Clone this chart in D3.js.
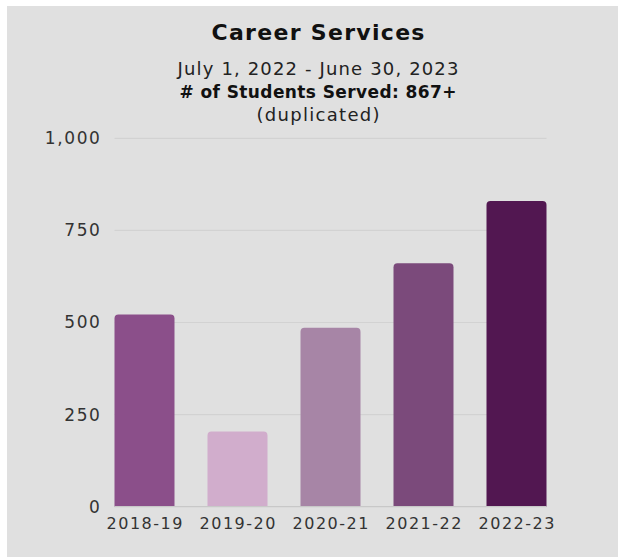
<!DOCTYPE html>
<html>
<head>
<meta charset="utf-8">
<script src="https://cdn.jsdelivr.net/npm/d3@7"></script>
<style>
  html, body { margin: 0; padding: 0; background: #ffffff; }
  svg { display: block; }
  text { font-family: "DejaVu Sans", "Noto Sans", sans-serif; }
</style>
</head>
<body>
<svg id="chart" width="618" height="557"></svg>
<script>
// Students served by Career Services, per academic year
const years = ["2018-19", "2019-20", "2020-21", "2021-22", "2022-23"];
const students = [522, 204, 486, 661, 830];
const barColors = ["#8b4f8a", "#d1adcc", "#a785a6", "#7b4a7b", "#521751"];
const yTicks = [0, 250, 500, 750, 1000];
const titleLines = ["Career Services", "July 1, 2022 - June 30, 2023", "# of Students Served: 867+", "(duplicated)"];

const svg = d3.select("#chart");
const W = 618, H = 557;

// panel background
svg.append("rect").attr("x", 7).attr("y", 6).attr("width", W - 7).attr("height", H - 6)
  .attr("fill", "#e0e0e0");

// titles
const tx = 318;
const titleStyle = [
  { y: 40, size: 22, weight: 700, spacing: 1.3, fill: "#111" },
  { y: 75, size: 18, weight: 400, spacing: 1.15, fill: "#222" },
  { y: 98, size: 17, weight: 700, spacing: 0.4, fill: "#111" },
  { y: 121, size: 18, weight: 400, spacing: 1.3, fill: "#222" }
];
svg.append("g").selectAll("text").data(titleLines).join("text")
  .attr("x", (d, i) => tx + titleStyle[i].spacing / 2).attr("y", (d, i) => titleStyle[i].y)
  .attr("text-anchor", "middle")
  .attr("font-size", (d, i) => titleStyle[i].size)
  .attr("font-weight", (d, i) => titleStyle[i].weight)
  .attr("letter-spacing", (d, i) => titleStyle[i].spacing)
  .attr("fill", (d, i) => titleStyle[i].fill)
  .text(d => d);

// scales
const x = d3.scaleBand().domain(years).range([98, 563]).paddingInner(0.355).paddingOuter(0.1775);
const y = d3.scaleLinear().domain([0, 1000]).range([506.7, 138.3]);

const gx0 = x(years[0]);
const gx1 = x(years[years.length - 1]) + x.bandwidth();

// gridlines
svg.append("g").selectAll("line").data(yTicks.filter(d => d > 0)).join("line")
  .attr("x1", gx0).attr("x2", gx1)
  .attr("y1", d => y(d)).attr("y2", d => y(d))
  .attr("stroke", "#d2d2d2").attr("stroke-width", 1.2);

// y axis labels
const yAxis = d3.axisLeft(y).tickValues(yTicks).tickFormat(d3.format(",")).tickSize(0).tickPadding(0);
const ga = svg.append("g").attr("transform", `translate(101.5,0)`).call(yAxis);
ga.select(".domain").remove();
ga.selectAll("text").attr("font-size", 17).attr("letter-spacing", 1.6).attr("fill", "#333")
  .style("font-family", '"DejaVu Sans", sans-serif');

// bars with rounded top corners
const r = 4;
function barPath(x0, w, yTop, yBase) {
  return `M${x0},${yBase}V${yTop + r}Q${x0},${yTop} ${x0 + r},${yTop}H${x0 + w - r}Q${x0 + w},${yTop} ${x0 + w},${yTop + r}V${yBase}Z`;
}
svg.append("g").selectAll("path").data(years).join("path")
  .attr("d", (d, i) => barPath(x(d), x.bandwidth(), y(students[i]), y(0)))
  .attr("fill", (d, i) => barColors[i]);

// baseline
svg.append("line").attr("x1", gx0).attr("x2", gx1).attr("y1", y(0)).attr("y2", y(0))
  .attr("stroke", "#c8c8c8").attr("stroke-width", 1.2);

// x axis labels
const xAxis = d3.axisBottom(x).tickSize(0).tickPadding(0);
const gb = svg.append("g").attr("transform", `translate(0.75,${y(0) + 11})`).call(xAxis);
gb.select(".domain").remove();
gb.selectAll("text").attr("font-size", 16).attr("letter-spacing", 1.5).attr("fill", "#333")
  .style("font-family", '"DejaVu Sans", sans-serif');
</script>
</body>
</html>
